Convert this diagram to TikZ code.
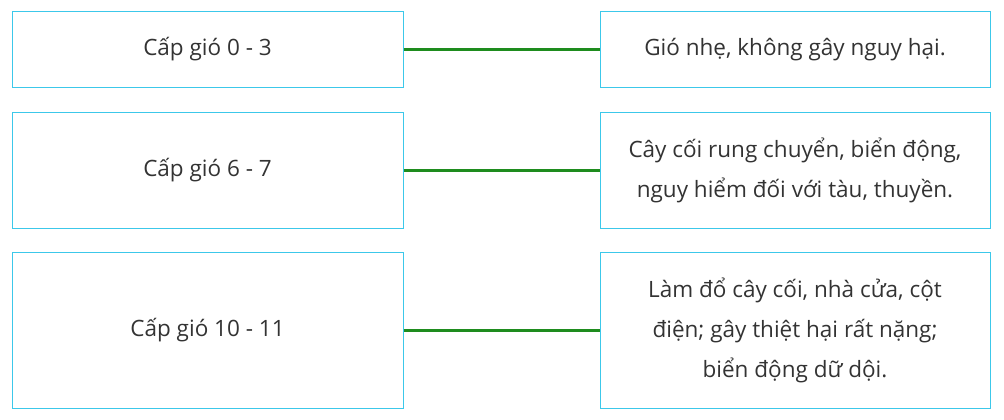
\documentclass[tikz,border=0pt]{standalone}
\usepackage{fontspec}
\setmainfont{Open Sans}
\definecolor{bcyan}{HTML}{3CC8EA}
\definecolor{lgreen}{HTML}{1E8C1E}
\definecolor{txt}{HTML}{333333}
\begin{document}
\begin{tikzpicture}[x=1pt,y=-1pt,
  box/.style={draw=bcyan,line width=1pt,inner sep=0pt,text=txt,font=\fontsize{22.5}{40}\selectfont,align=center},
  link/.style={draw=lgreen,line width=3pt}]
\useasboundingbox (0,0) rectangle (1004,420);
\node[box,minimum width=391,minimum height=75] (l1) at (207.5,49.5) {Cấp gió 0 - 3};
\node[box,minimum width=391,minimum height=116] (l2) at (207.5,170) {Cấp gió 6 - 7};
\node[box,minimum width=391,minimum height=156] (l3) at (207.5,330) {Cấp gió 10 - 11};
\node[box,minimum width=390,minimum height=75] (r1) at (795,49.5) {Gió nhẹ, không gây nguy hại.};
\node[box,minimum width=390,minimum height=116] (r2) at (795,170) {Cây cối rung chuyển, biển động,\\nguy hiểm đối với tàu, thuyền.};
\node[box,minimum width=390,minimum height=156] (r3) at (795,330) {Làm đổ cây cối, nhà cửa, cột\\điện; gây thiệt hại rất nặng;\\biển động dữ dội.};
\draw[link] (l1.east) -- (r1.west);
\draw[link] (l2.east) -- (r2.west);
\draw[link] (l3.east) -- (r3.west);
\end{tikzpicture}
\end{document}
